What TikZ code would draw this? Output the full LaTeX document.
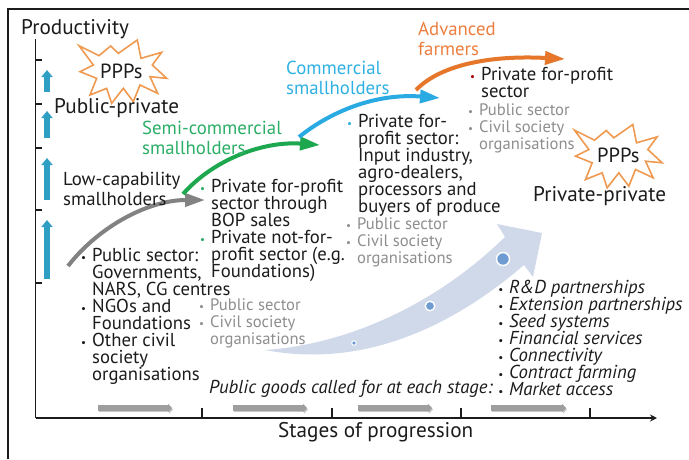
\documentclass[tikz,border=0pt]{standalone}
\usepackage{fontspec}
\setmainfont{PT Sans}
\usetikzlibrary{arrows.meta}
\definecolor{inkc}{HTML}{1C1C1C}
\definecolor{grayt}{HTML}{8E8E8E}
\definecolor{greent}{HTML}{2BAE66}
\definecolor{bluet}{HTML}{2FB1E3}
\definecolor{oranget}{HTML}{EC7F3F}
\definecolor{grayc}{HTML}{828282}
\definecolor{greenc}{HTML}{1DA84F}
\definecolor{bluec}{HTML}{2AAAE2}
\definecolor{orangec}{HTML}{E5762A}
\definecolor{upc}{HTML}{2E9EC2}
\definecolor{palec}{HTML}{D0D9E9}
\definecolor{dotc}{HTML}{6F9BD3}
\definecolor{starc}{HTML}{EF9A50}
\newcommand{\bu}[1][inkc]{\llap{\textcolor{#1}{\fontsize{11}{11}\selectfont •}\hspace{6pt}}}
\setlength{\lineskiplimit}{-100pt}
\tikzset{
  x=1pt,y=-1pt,
  txt/.style={anchor=base west,inner sep=0pt,align=left,text=inkc,font=\fontsize{18.7}{17}\selectfont},
  lab/.style={txt,font=\fontsize{18.8}{19.3}\selectfont},
  graytxt/.style={txt,text=grayt,font=\fontsize{16.6}{17}\selectfont},
  itatxt/.style={txt,font=\fontsize{18.7}{17}\selectfont\itshape},
  big/.style={txt,font=\fontsize{21.2}{22}\selectfont},
  curve/.style={line width=4pt,-{Triangle[length=20pt,width=13pt]}},
  upar/.style={line width=5.5pt,upc,-{Triangle[length=7pt,width=11pt]}},
  stagear/.style={line width=5.5pt,#1,-{Triangle[length=4pt,width=8pt]}},
  axis/.style={line width=1.1pt,draw=inkc},
  burst/.style={draw=starc,line width=1.6pt,fill=white,line join=miter},
  spot/.style={fill=dotc,draw=white,line width=1.4pt},
}
\newcommand{\burstat}[2]{%
  \draw[burst,shift={(#1,#2)},x=0.3333pt,y=-0.3333pt]
   (27,47)--(87,77)--(122,48)--(145,70)--(202,30)--(213,85)--(275,67)--(247,105)--(290,145)--(240,140)--(263,190)--(210,165)--(190,215)--(160,175)--(125,220)--(110,175)--(60,195)--(80,145)--(30,125)--(70,105)--cycle;}
\begin{document}
\begin{tikzpicture}
\useasboundingbox (0,0) rectangle (689,459);
\fill[white] (0,0) rectangle (689,459);
% frame
\draw[line width=2pt,inkc] (8,459)--(8,9)--(689,9);
% big pale arrow
\fill[palec] (265,350) .. controls (340,345) and (430,310) .. (505,237) -- (497,224) -- (542,233) -- (533,277) -- (524,265)
  .. controls (460,320) and (370,370) .. (265,350) -- cycle;
\node[circle,spot,minimum size=13pt,inner sep=0pt] (d3) at (503,259) {};
\node[circle,spot,minimum size=9.5pt,inner sep=0pt] (d2) at (430,306) {};
\node[circle,spot,minimum size=4.5pt,inner sep=0pt,line width=1pt] (d1) at (354,343) {};
% axes
\coordinate (orig) at (35.5,418);
\coordinate (ytop) at (35.5,39);
\coordinate (xend) at (657,418);
\draw[axis] (ytop)--(orig);
\draw[axis,-{Stealth[length=7pt,width=7pt]}] (orig)--(xend);
\foreach \yy in {60,104,148,210,283} \draw[axis] (35.5,\yy)--(42,\yy);
\foreach \xx in {202,332,461,590} \draw[axis] (\xx,418)--(\xx,408);
% vertical arrows
\coordinate (u1a) at (47,92); \coordinate (u1b) at (47,70);
\coordinate (u2a) at (47,138); \coordinate (u2b) at (47,111);
\coordinate (u3a) at (47,200); \coordinate (u3b) at (47,158);
\coordinate (u4a) at (47,279); \coordinate (u4b) at (47,220);
\draw[upar] (u1a)--(u1b);
\draw[upar] (u2a)--(u2b);
\draw[upar] (u3a)--(u3b);
\draw[upar] (u4a)--(u4b);
% stage arrows
\foreach \sx/\ex in {98/172,233/307,358/432,491/566}{
  \draw[stagear=black!22] (\sx+1,409.5)--(\ex+1,409.5);
  \draw[stagear=black!38] (\sx,408)--(\ex,408);
}
% curved arrows
\coordinate (ga) at (68,266); \coordinate (gb) at (205,200);
\coordinate (na) at (183,194); \coordinate (nb) at (320,145);
\coordinate (ba) at (299,137); \coordinate (bb) at (440,98);
\coordinate (oa) at (416,90); \coordinate (ob) at (565,59);
\draw[curve,grayc] (ga) .. controls (100,225) and (150,200) .. (gb);
\draw[curve,greenc] (na) .. controls (215,158) and (265,141) .. (nb);
\draw[curve,bluec] (ba) .. controls (330,112) and (375,93) .. (bb);
\draw[curve,orangec] (oa) .. controls (440,65) and (490,55) .. (ob);
% bursts
\burstat{70}{30}
\burstat{565.5}{114.5}
% labels
\node[big] (prod) at (21,34) {Productivity};
\node[big] (pub) at (54,113) {Public-private};
\node[big] (priv) at (533,201) {Private-private};
\node[big] (stages) at (278,437) {Stages of progression};
\node[lab,font=\fontsize{20.5}{20}\selectfont] (ppp1) at (100,78) {PPPs};
\node[lab,font=\fontsize{20.5}{20}\selectfont] (ppp2) at (597,162) {PPPs};
\node[lab,text=greent] (semi) at (142,154) {Semi-commercial\\smallholders};
\node[lab,text=bluet] (comm) at (286,94) {Commercial\\smallholders};
\node[lab,text=oranget] (adv) at (418,55) {Advanced\\farmers};
\node[lab] (low) at (63,205) {Low-capability\\smallholders};
\node[txt] (l1) at (92,380) {\bu Public sector:\\Governments,\\NARS, CG centres\\\bu NGOs and\\Foundations\\\bu Other civil\\society\\organisations};
\node[txt] (l2) at (211,277) {\bu[greent]Private for-profit\\sector through\\BOP sales\\\bu[greent]Private not-for-\\profit sector (e.g.\\Foundations)};
\node[graytxt] (l2g) at (210,344) {\bu[grayt]Public sector\\\bu[grayt]Civil society\\organisations};
\node[txt] (l3) at (358,212) {\bu[bluet]Private for-\\profit sector:\\Input industry,\\agro-dealers,\\processors and\\buyers of produce};
\node[graytxt] (l3g) at (357,263) {\bu[grayt]Public sector\\\bu[grayt]Civil society\\organisations};
\node[txt] (l4) at (481,97) {\bu[red!70!black]Private for-profit\\sector};
\node[graytxt] (l4g) at (479,149) {\bu[grayt]Public sector\\\bu[grayt]Civil society\\organisations};
\node[itatxt] (goods) at (209,393) {Public goods called for at each stage:};
\node[itatxt] (l5) at (509,395) {\bu R\&D partnerships\\\bu Extension partnerships\\\bu Seed systems\\\bu Financial services\\\bu Connectivity\\\bu Contract farming\\\bu Market access};
\end{tikzpicture}
\end{document}
